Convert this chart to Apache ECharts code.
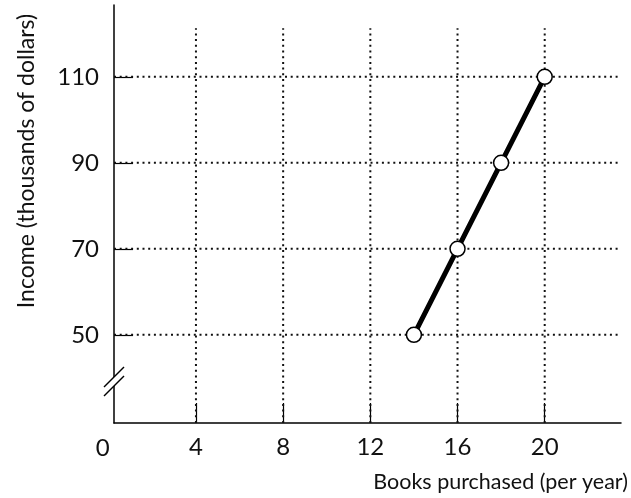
<!DOCTYPE html>
<html>
<head>
<meta charset="utf-8">
<script src="https://cdn.jsdelivr.net/npm/echarts@6/dist/echarts.min.js"></script>
<style>html,body{margin:0;padding:0;background:#fff;}#c{width:631px;height:498px;}</style>
</head>
<body>
<div id="c"></div>
<script>
const xTicks = [4, 8, 12, 16, 20];
const yTicks = [50, 70, 90, 110];
const books = [14, 16, 18, 20];
const income = [50, 70, 90, 110];
const xTitle = 'Books purchased (per year)';
const yTitle = 'Income (thousands of dollars)';
const originLabel = '0';

const X_MIN = 0.24, X_MAX = 23.5, Y_MIN = 29.5, Y_MAX = 126.7;
const V_GRID_TOP = 121.3, H_GRID_RIGHT = 23.35;
const FONT = 'Lato';
const dotStyle = { color: '#111', width: 2, type: [2, 3.7] };

const chart = echarts.init(document.getElementById('c'));
const series = [];
xTicks.forEach(x => series.push({
  type: 'line', silent: true, symbol: 'none', z: 1, animation: false,
  lineStyle: dotStyle, data: [[x, Y_MIN], [x, V_GRID_TOP]]
}));
yTicks.forEach(y => series.push({
  type: 'line', silent: true, symbol: 'none', z: 1, animation: false,
  lineStyle: dotStyle, data: [[X_MIN, y], [H_GRID_RIGHT, y]]
}));
series.push({
  type: 'line', z: 5, animation: false,
  data: books.map((b, i) => [b, income[i]]),
  lineStyle: { color: '#000', width: 5 },
  symbol: 'circle', symbolSize: 15, showSymbol: true,
  itemStyle: { color: '#fff', borderColor: '#000', borderWidth: 1.5 }
});

chart.setOption({
  animation: false,
  grid: { left: 114, right: 10, top: 5, bottom: 75 },
  xAxis: {
    type: 'value', min: X_MIN, max: X_MAX,
    axisLine: { lineStyle: { color: '#000', width: 1.5 } },
    axisTick: { show: true, inside: true, length: 20, customValues: xTicks, lineStyle: { color: '#000', width: 1.2 } },
    axisLabel: { customValues: xTicks, fontSize: 24, fontFamily: FONT, color: '#111', margin: 12 },
    splitLine: { show: false },
    name: xTitle, nameLocation: 'end', nameGap: 7,
    nameTextStyle: { fontSize: 21.5, fontFamily: FONT, color: '#111', align: 'right', verticalAlign: 'top', padding: [48, 0, 0, 0] }
  },
  yAxis: {
    type: 'value', min: Y_MIN, max: Y_MAX,
    axisLine: { lineStyle: { color: '#000', width: 1.5 } },
    axisTick: { show: true, inside: true, length: 19, customValues: yTicks, lineStyle: { color: '#000', width: 1.2 } },
    axisLabel: { customValues: yTicks, fontSize: 24, fontFamily: FONT, color: '#111', margin: 15 },
    splitLine: { show: false }
  },
  series: series
});

const origin = chart.convertToPixel({ gridIndex: 0 }, [0, Y_MIN]);
chart.setOption({
  graphic: [
    { type: 'text', x: 27, y: 161, rotation: Math.PI / 2, z: 10,
      style: { text: yTitle, fontSize: 23, fontFamily: FONT, fill: '#111', align: 'center', verticalAlign: 'middle' } },
    { type: 'text', x: origin[0] - 6, y: 448, z: 10,
      style: { text: originLabel, fontSize: 24, fontFamily: FONT, fill: '#111', align: 'center', verticalAlign: 'middle' } },
    { type: 'polygon', z: 10, shape: { points: [[104, 396], [124, 376], [124, 367], [104, 387]] }, style: { fill: '#fff' } },
    { type: 'line', z: 11, shape: { x1: 104, y1: 396, x2: 124, y2: 376 }, style: { stroke: '#000', lineWidth: 1.5 } },
    { type: 'line', z: 11, shape: { x1: 104, y1: 387, x2: 124, y2: 367 }, style: { stroke: '#000', lineWidth: 1.5 } }
  ]
});
</script>
</body>
</html>
